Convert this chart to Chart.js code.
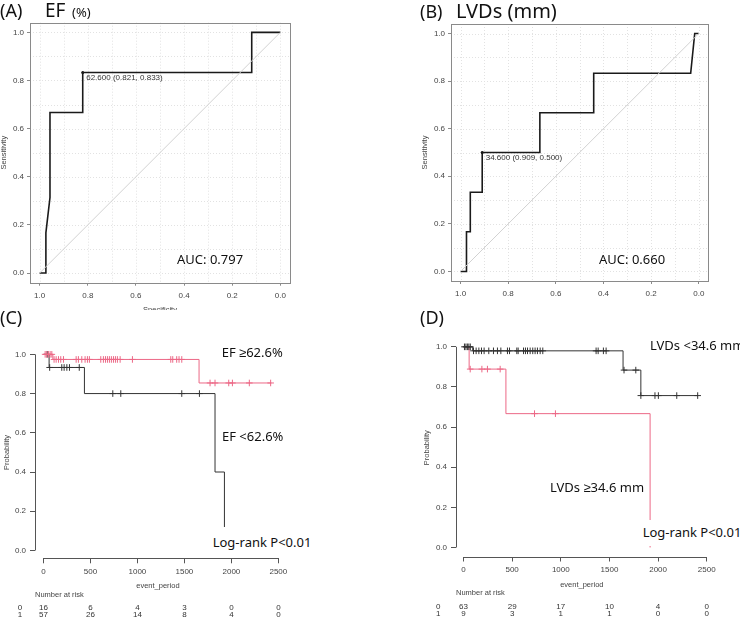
<!DOCTYPE html>
<html><head><meta charset="utf-8">
<script src="https://cdn.jsdelivr.net/npm/chart.js@4/dist/chart.umd.min.js"></script>
<style>
html,body{margin:0;padding:0;background:#fff}
body{width:740px;height:620px;position:relative;overflow:hidden;font-family:"Noto Sans",sans-serif}
canvas{position:absolute;display:block}
.t{position:absolute;white-space:nowrap;color:#111;line-height:1;z-index:5}
.box{position:absolute;background:#fff;z-index:4;white-space:nowrap;color:#111;line-height:1;font-size:13px}
</style></head><body>
<canvas id="cA" width="370" height="310" style="left:0;top:0"></canvas>
<canvas id="cB" width="370" height="310" style="left:370px;top:0"></canvas>
<canvas id="cC" width="370" height="290" style="left:0;top:330px"></canvas>
<canvas id="cD" width="370" height="290" style="left:370px;top:330px"></canvas>

<div class="t" style="left:0;top:1.3px;font-size:18px">(A)</div>
<div class="t" style="left:45px;top:0.6px;font-size:19px">EF</div>
<div class="t" style="left:72px;top:6.1px;font-size:13px">(%)</div>
<div class="t" style="left:420px;top:2.1px;font-size:18px">(B)</div>
<div class="t" style="left:456px;top:1.1px;font-size:20px">LVDs (mm)</div>
<div class="t" style="left:0;top:308.4px;font-size:18px">(C)</div>
<div class="t" style="left:420px;top:308.4px;font-size:18px">(D)</div>
<div class="t" id="aucA" style="left:177px;top:253.1px;font-size:13px"></div>
<div class="t" id="aucB" style="left:599px;top:253.1px;font-size:13px"></div>
<div class="t" style="left:221.7px;top:345.6px;font-size:13px">EF ≥62.6%</div>
<div class="t" style="left:222px;top:429.8px;font-size:13px">EF &lt;62.6%</div>
<div class="box" style="left:211px;top:527px;height:25px;padding:8.6px 2px 0 1.7px;box-sizing:border-box">Log-rank P&lt;0.01</div>
<div class="t" style="left:650px;top:339px;font-size:13px">LVDs &lt;34.6 mm</div>
<div class="t" style="left:550px;top:481.4px;font-size:13px">LVDs ≥34.6 mm</div>
<div class="box" style="left:641px;top:519.5px;height:26px;padding:6.1px 2px 0 1.7px;box-sizing:border-box">Log-rank P&lt;0.01</div>

<script>
// ---------------- DATA ----------------
const rocTicks = [0, 0.2, 0.4, 0.6, 0.8, 1.0];
// (A) EF ROC curve
const efSpec = [1, 0.974, 0.974, 0.957, 0.957, 0.821, 0.821, 0.119, 0.119, 0];
const efSens = [0, 0, 0.167, 0.314, 0.667, 0.667, 0.833, 0.833, 1, 1];
const efThr = [62.6, 0.821, 0.833];   // threshold, specificity, sensitivity
const efAUC = 0.797;
// (B) LVDs ROC curve
const lvSpec = [1, 0.975, 0.975, 0.959, 0.959, 0.909, 0.909, 0.667, 0.667, 0.441, 0.441, 0.034, 0.017, 0];
const lvSens = [0, 0, 0.167, 0.167, 0.333, 0.333, 0.5, 0.5, 0.667, 0.667, 0.833, 0.833, 1, 1];
const lvThr = [34.6, 0.909, 0.5];
const lvAUC = 0.660;

// Kaplan-Meier
const kmXTicks = [0, 500, 1000, 1500, 2000, 2500];
const kmYTicks = [0, 0.2, 0.4, 0.6, 0.8, 1.0];
// (C) EF >= 62.6% (red) and EF < 62.6% (black)
const efHiTimes = [0, 100, 1656, 2425];
const efHiSurv  = [1, 0.974, 0.854, 0.854];
const efHiCens  = [18, 35, 53, 71, 89, 113, 135, 160, 184, 213, 348, 372, 408, 443, 468, 489, 610, 638, 660, 681, 702, 723, 745, 766, 787, 816, 947, 1355, 1376, 1418, 1443, 1472, 1773, 1826, 1972, 2011, 2191, 2418];
const efLoTimes = [0, 60, 436, 1826, 1926];
const efLoSurv  = [1, 0.933, 0.8, 0.4, 0];
const efLoCens  = [40, 66, 195, 220, 249, 277, 381, 738, 823, 1472, 1660];
const riskCLabels = ["0", "1"];
const riskC0 = [16, 6, 4, 3, 0, 0];
const riskC1 = [57, 26, 14, 8, 4, 0];
// (D) LVDs < 34.6 mm (black) and LVDs >= 34.6 mm (red)
const lvLoTimes = [0, 95, 1640, 1823, 2410];
const lvLoSurv  = [1, 0.98, 0.884, 0.757, 0.757];
const lvLoCens  = [10, 25, 40, 55, 70, 103, 130, 158, 185, 212, 260, 308, 349, 384, 452, 473, 548, 562, 617, 637, 658, 685, 712, 736, 760, 788, 815, 1363, 1384, 1438, 1466, 1650, 1771, 1823, 1968, 2003, 2192, 2407];
const lvHiTimes = [0, 58, 436, 1918];
const lvHiSurv  = [1, 0.889, 0.667, 0];
const lvHiCens  = [69, 189, 246, 377, 730, 945];
const riskDLabels = ["0", "1"];
const riskD0 = [63, 29, 17, 10, 4, 0];
const riskD1 = [9, 3, 1, 1, 0, 0];

// ---------------- HELPERS ----------------
const RFONT = '"Liberation Sans", Arial, sans-serif';
const RED = 'rgb(236,104,134)';
const BLK = '#333';
document.getElementById('aucA').textContent = 'AUC: ' + efAUC.toFixed(3);
document.getElementById('aucB').textContent = 'AUC: ' + lvAUC.toFixed(3);

const pts = (xs, ys) => xs.map((x, i) => ({x, y: ys[i]}));
function stepVal(times, surv, t) {
  let v = surv[0];
  for (let i = 0; i < times.length; i++) if (times[i] <= t) v = surv[i];
  return v;
}
const censPts = (cens, times, surv) => cens.map(t => ({x: t, y: stepVal(times, surv, t)}));
const fixTicks = arr => s => { s.ticks = arr.map(v => ({value: v})); };

const rocDecor = {
  id: 'rocDecor',
  beforeDatasetsDraw(chart) {
    const {ctx, chartArea: a, scales: {x, y}} = chart;
    ctx.save();
    ctx.strokeStyle = '#e2e2e2'; ctx.lineWidth = 1; ctx.setLineDash([1, 2]);
    for (let i = 0; i <= 10; i++) {
      const v = i / 10;
      const px = Math.round(x.getPixelForValue(v)) + 0.5;
      const py = Math.round(y.getPixelForValue(v)) + 0.5;
      ctx.beginPath(); ctx.moveTo(px, a.top); ctx.lineTo(px, a.bottom); ctx.stroke();
      ctx.beginPath(); ctx.moveTo(a.left, py); ctx.lineTo(a.right, py); ctx.stroke();
    }
    ctx.restore();
  },
  afterDraw(chart, args, o) {
    const {ctx, chartArea: a, scales: {x, y}} = chart;
    ctx.save();
    ctx.strokeStyle = '#8a8a8a'; ctx.lineWidth = 1;
    ctx.strokeRect(Math.round(a.left) + 0.5, Math.round(a.top) + 0.5, Math.round(a.width), Math.round(a.height));
    // threshold label
    const th = o.thr;
    const px = x.getPixelForValue(th[1]), py = y.getPixelForValue(th[2]);
    ctx.fillStyle = '#333'; ctx.font = '8px ' + RFONT;
    ctx.textAlign = 'left'; ctx.textBaseline = 'middle';
    ctx.fillText(th[0].toFixed(3) + ' (' + th[1].toFixed(3) + ', ' + th[2].toFixed(3) + ')', px + 3.5, py + 5.5);
    // axis titles
    ctx.fillStyle = '#444'; ctx.font = '7.5px ' + RFONT; ctx.textAlign = 'center';
    ctx.save(); ctx.translate(a.left - 26, (a.top + a.bottom) / 2); ctx.rotate(-Math.PI / 2);
    ctx.fillText('Sensitivity', 0, 0); ctx.restore();
    if (o.xTitle) ctx.fillText('Specificity', (a.left + a.right) / 2, a.bottom + 27);
    ctx.restore();
  }
};

function rocChart(id, spec, sens, thr, area, xTitle) {
  const cv = document.getElementById(id);
  const W = cv.width, H = cv.height, YW = 30, XH = 20;
  const tickFont = {family: RFONT, size: 8};
  return new Chart(cv, {
    type: 'line',
    data: {datasets: [
      {data: pts([1, 0], [0, 1]), borderColor: '#d2d2d2', borderWidth: 1, pointRadius: 0, tension: 0},
      {data: pts(spec, sens), borderColor: '#1a1a1a', borderWidth: 1.6, pointRadius: 0, tension: 0},
      {data: pts([thr[1]], [thr[2]]), showLine: false, pointRadius: 1.5, pointBackgroundColor: '#111', pointBorderWidth: 0}
    ]},
    options: {
      responsive: false, animation: false, events: [],
      plugins: {legend: {display: false}, tooltip: {enabled: false}, rocDecor: {thr, xTitle}},
      layout: {padding: {left: area.L - YW, top: area.T, right: W - area.R, bottom: H - area.B - XH}},
      scales: {
        x: {type: 'linear', reverse: true, min: -0.04, max: 1.04,
            afterFit: s => { s.height = XH; }, afterBuildTicks: fixTicks(rocTicks),
            grid: {drawOnChartArea: false, tickLength: 3, color: '#8a8a8a'}, border: {display: false},
            ticks: {padding: 5, color: '#444', font: tickFont, maxRotation: 0, autoSkip: false, callback: v => v.toFixed(1)}},
        y: {type: 'linear', min: -0.04, max: 1.04,
            afterFit: s => { s.width = YW; }, afterBuildTicks: fixTicks(rocTicks),
            grid: {drawOnChartArea: false, tickLength: 3, color: '#8a8a8a'}, border: {display: false},
            ticks: {padding: 3, color: '#444', font: tickFont, autoSkip: false, callback: v => v.toFixed(1)}}
      }
    },
    plugins: [rocDecor]
  });
}

const kmDecor = {
  id: 'kmDecor',
  afterDraw(chart, args, o) {
    const {ctx, chartArea: a, scales: {x, y}} = chart;
    ctx.save();
    ctx.strokeStyle = '#555'; ctx.lineWidth = 1;
    const ax = Math.round(a.left) + 0.5, ay = Math.round(a.bottom) + 0.5;
    ctx.beginPath(); ctx.moveTo(ax, y.getPixelForValue(kmYTicks[0])); ctx.lineTo(ax, y.getPixelForValue(kmYTicks[kmYTicks.length - 1])); ctx.stroke();
    ctx.beginPath(); ctx.moveTo(x.getPixelForValue(kmXTicks[0]), ay); ctx.lineTo(x.getPixelForValue(kmXTicks[kmXTicks.length - 1]), ay); ctx.stroke();
    ctx.fillStyle = '#444'; ctx.font = '7.5px ' + RFONT; ctx.textBaseline = 'middle';
    ctx.textAlign = 'center';
    ctx.fillText('event_period', (a.left + a.right) / 2, a.bottom + o.xt);
    ctx.save(); ctx.translate(a.left - o.yt, (a.top + a.bottom) / 2); ctx.rotate(-Math.PI / 2);
    ctx.fillText('Probability', 0, 0); ctx.restore();
    ctx.textAlign = 'left';
    ctx.fillText('Number at risk', a.left, a.bottom + o.head);
    ctx.font = '8px ' + RFONT; ctx.textAlign = 'center'; ctx.fillStyle = '#333';
    o.rows.forEach((row, r) => {
      const yy = a.bottom + o.rowDy[r];
      ctx.fillText(o.labels[r], a.left - o.lab, yy);
      row.forEach((v, i) => ctx.fillText(String(v), x.getPixelForValue(kmXTicks[i]), yy));
    });
    ctx.restore();
  }
};

function kmChart(id, series, area, xr, yr, deco) {
  const cv = document.getElementById(id);
  const W = cv.width, H = cv.height, YW = 40, XH = 24;
  const tickFont = {family: RFONT, size: 8};
  const ds = [];
  series.forEach(s => {
    ds.push({data: pts(s.times, s.surv), borderColor: s.color, borderWidth: 1, pointRadius: 0, stepped: 'before'});
    ds.push({data: censPts(s.cens, s.times, s.surv), showLine: false, pointStyle: 'cross', pointRadius: 3.3,
             borderColor: s.color, pointBorderColor: s.color, pointBorderWidth: 1});
  });
  return new Chart(cv, {
    type: 'line',
    data: {datasets: ds},
    options: {
      responsive: false, animation: false, events: [],
      plugins: {legend: {display: false}, tooltip: {enabled: false}, kmDecor: deco},
      layout: {padding: {left: area.L - YW, top: area.T, right: W - area.R, bottom: H - area.B - XH}},
      scales: {
        x: {type: 'linear', min: xr[0], max: xr[1],
            afterFit: s => { s.height = XH; }, afterBuildTicks: fixTicks(kmXTicks),
            grid: {drawOnChartArea: false, tickLength: 5, color: '#555'}, border: {display: false},
            ticks: {padding: 3.5, color: '#444', font: tickFont, maxRotation: 0, autoSkip: false, callback: v => String(v)}},
        y: {type: 'linear', min: yr[0], max: yr[1],
            afterFit: s => { s.width = YW; }, afterBuildTicks: fixTicks(kmYTicks),
            grid: {drawOnChartArea: false, tickLength: 5, color: '#555'}, border: {display: false},
            ticks: {padding: 4, color: '#444', font: tickFont, autoSkip: false, callback: v => v.toFixed(1)}}
      }
    },
    plugins: [kmDecor]
  });
}

rocChart('cA', efSpec, efSens, efThr, {L: 30, T: 22.7, R: 290, B: 282.7}, true);
rocChart('cB', lvSpec, lvSens, lvThr, {L: 81, T: 24, R: 338.3, B: 281}, false);

kmChart('cC', [
  {times: efHiTimes, surv: efHiSurv, cens: efHiCens, color: RED},
  {times: efLoTimes, surv: efLoSurv, cens: efLoCens, color: BLK}
], {L: 35, T: 16.5, R: 280.8, B: 228.3}, [-90, 2526], [-0.04, 1.04],
  {xt: 27.7, yt: 27.7, head: 36.7, rowDy: [49.4, 56], lab: 15, labels: riskCLabels, rows: [riskC0, riskC1]});

kmChart('cD', [
  {times: lvLoTimes, surv: lvLoSurv, cens: lvLoCens, color: BLK},
  {times: lvHiTimes, surv: lvHiSurv, cens: lvHiCens, color: RED}
], {L: 86, T: 5.6, R: 337.7, B: 226.5}, [-77, 2510], [-0.045, 1.04],
  {xt: 28.5, yt: 29.3, head: 36.8, rowDy: [50.2, 57.5], lab: 17.7, labels: riskDLabels, rows: [riskD0, riskD1]});
</script>
</body></html>
